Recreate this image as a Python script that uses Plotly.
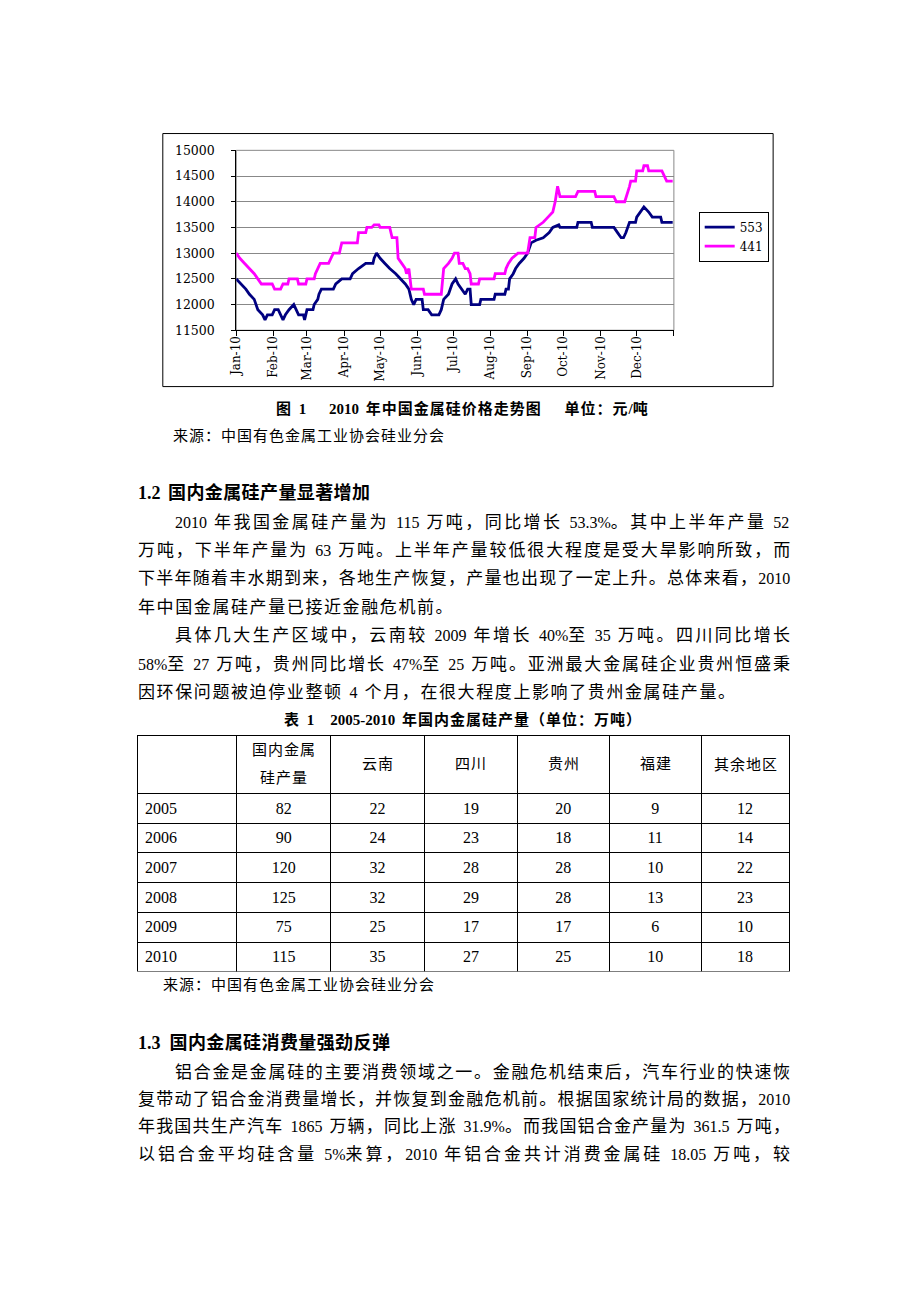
import plotly.graph_objects as go

W, H = 920, 1302

# ---------------- chart data (元/吨) ----------------
dates_553 = ["2010-01-01","2010-01-05","2010-01-09","2010-01-12","2010-01-16","2010-01-19","2010-01-23","2010-01-25",
             "2010-01-27","2010-01-31","2010-02-02","2010-02-05","2010-02-07","2010-02-09","2010-02-11","2010-02-14",
             "2010-02-18","2010-02-20","2010-02-22","2010-02-26","2010-02-27","2010-02-28","2010-03-01","2010-03-06",
             "2010-03-07","2010-03-10","2010-03-11","2010-03-13","2010-03-23","2010-03-25","2010-03-30","2010-04-06",
             "2010-04-08","2010-04-13","2010-04-19","2010-04-25","2010-04-26","2010-04-28","2010-05-01","2010-05-05",
             "2010-05-09","2010-05-14","2010-05-18","2010-05-22","2010-05-25","2010-05-27","2010-05-29","2010-05-31",
             "2010-06-05","2010-06-06","2010-06-10","2010-06-13","2010-06-19","2010-06-21","2010-06-23","2010-06-27",
             "2010-06-30","2010-07-03","2010-07-05","2010-07-08","2010-07-11","2010-07-13","2010-07-15","2010-07-16",
             "2010-07-23","2010-07-24","2010-08-04","2010-08-05","2010-08-13","2010-08-14","2010-08-16","2010-08-17",
             "2010-08-20","2010-08-22","2010-08-25","2010-08-29","2010-09-01","2010-09-04","2010-09-08","2010-09-14",
             "2010-09-19","2010-09-22","2010-09-27","2010-09-28","2010-10-12","2010-10-13","2010-10-24","2010-10-25",
             "2010-11-12","2010-11-15","2010-11-18","2010-11-20","2010-11-22","2010-11-25","2010-11-30","2010-12-01",
             "2010-12-04","2010-12-07","2010-12-11","2010-12-14","2010-12-21","2010-12-22","2010-12-31"]
price_553 = [12500,12400,12300,12200,12100,11900,11800,11700,
             11800,11800,11900,11900,11800,11700,11800,11900,
             12000,11900,11800,11800,11700,11800,11900,11900,
             12000,12100,12200,12300,12300,12400,12500,12500,
             12600,12700,12800,12800,12900,13000,12900,12800,
             12700,12600,12500,12400,12300,12100,12000,12100,
             12100,11900,11900,11800,11800,11900,12100,12200,
             12400,12500,12400,12300,12200,12300,12300,12000,
             12000,12100,12100,12200,12200,12300,12300,12500,
             12600,12700,12800,12900,13000,13200,13250,13300,
             13400,13500,13550,13500,13500,13600,13600,13500,
             13500,13400,13300,13300,13400,13600,13600,13700,
             13800,13900,13800,13700,13700,13600,13600]

dates_441 = ["2010-01-01","2010-01-04","2010-01-08","2010-01-12","2010-01-16","2010-01-19","2010-01-22","2010-01-31",
             "2010-02-02","2010-02-07","2010-02-09","2010-02-13","2010-02-14","2010-02-21","2010-02-22","2010-02-28",
             "2010-03-01","2010-03-07","2010-03-08","2010-03-10","2010-03-12","2010-03-19","2010-03-21","2010-03-23",
             "2010-03-28","2010-03-30","2010-04-12","2010-04-13","2010-04-19","2010-04-20","2010-04-24","2010-04-26",
             "2010-04-30","2010-05-01","2010-05-09","2010-05-11","2010-05-15","2010-05-16","2010-05-19","2010-05-22",
             "2010-05-23","2010-05-25","2010-05-26","2010-05-27","2010-06-06","2010-06-07","2010-06-21","2010-06-22",
             "2010-06-23","2010-06-27","2010-06-30","2010-07-02","2010-07-05","2010-07-06","2010-07-09","2010-07-11",
             "2010-07-13","2010-07-15","2010-07-16","2010-07-22","2010-07-23","2010-08-04","2010-08-05","2010-08-13",
             "2010-08-14","2010-08-16","2010-08-19","2010-08-24","2010-09-01","2010-09-03","2010-09-07","2010-09-08",
             "2010-09-14","2010-09-18","2010-09-22","2010-09-24","2010-09-26","2010-09-28","2010-10-11","2010-10-13",
             "2010-10-27","2010-10-28","2010-11-12","2010-11-14","2010-11-21","2010-11-25","2010-11-26","2010-11-30",
             "2010-12-01","2010-12-06","2010-12-07","2010-12-10","2010-12-11","2010-12-22","2010-12-24","2010-12-26",
             "2010-12-31"]
price_441 = [13000,12900,12800,12700,12600,12500,12400,12400,
             12300,12300,12400,12400,12500,12500,12400,12400,
             12500,12500,12600,12700,12800,12800,12900,13000,
             13000,13200,13200,13400,13400,13500,13500,13550,
             13550,13500,13500,13300,13300,12900,12800,12700,
             12600,12700,12500,12300,12300,12200,12200,12500,
             12700,12800,12900,13000,13000,12800,12800,12700,
             12700,12600,12400,12400,12500,12500,12600,12600,
             12700,12800,12900,13000,13000,13300,13300,13500,
             13600,13700,13800,14000,14300,14100,14100,14200,
             14200,14100,14100,14000,14000,14300,14400,14400,
             14600,14600,14700,14700,14600,14600,14500,14400,
             14400]

series_names = ["553", "441"]
month_ticks = ["2010-01-01","2010-02-01","2010-03-01","2010-04-01","2010-05-01","2010-06-01","2010-07-01",
               "2010-08-01","2010-09-01","2010-10-01","2010-11-01","2010-12-01","2011-01-01"]
month_labels = ["Jan-10","Feb-10","Mar-10","Apr-10","May-10","Jun-10","Jul-10",
                "Aug-10","Sep-10","Oct-10","Nov-10","Dec-10",""]
y_ticks = [11500, 12000, 12500, 13000, 13500, 14000, 14500, 15000]

# ---------------- table data (万吨) ----------------
table_header = ["", "国内金属<br>硅产量", "云南", "四川", "贵州", "福建", "其余地区"]
years = ["2005", "2006", "2007", "2008", "2009", "2010"]
national = [82, 90, 120, 125, 75, 115]
yunnan = [22, 24, 32, 32, 25, 35]
sichuan = [19, 23, 28, 29, 17, 27]
guizhou = [20, 18, 28, 28, 17, 25]
fujian = [9, 11, 10, 13, 6, 10]
others = [12, 14, 22, 23, 10, 18]

# ---------------- text ----------------
chart_caption = "图 1\u3000 2010 年中国金属硅价格走势图\u3000 单位：元/吨"
source_text = "来源：中国有色金属工业协会硅业分会"
heading_12 = "1.2 国内金属硅产量显著增加"
para_12a = ["2010 年我国金属硅产量为 115 万吨，同比增长 53.3%。其中上半年产量 52",
            "万吨，下半年产量为 63 万吨。上半年产量较低很大程度是受大旱影响所致，而",
            "下半年随着丰水期到来，各地生产恢复，产量也出现了一定上升。总体来看，2010",
            "年中国金属硅产量已接近金融危机前。"]
para_12b = ["具体几大生产区域中，云南较 2009 年增长 40%至 35 万吨。四川同比增长",
            "58%至 27 万吨，贵州同比增长 47%至 25 万吨。亚洲最大金属硅企业贵州恒盛秉",
            "因环保问题被迫停业整顿 4 个月，在很大程度上影响了贵州金属硅产量。"]
table_title = "表 1\u30002005-2010 年国内金属硅产量（单位：万吨）"
heading_13 = "1.3\u00a0\u00a0国内金属硅消费量强劲反弹"
para_13 = ["铝合金是金属硅的主要消费领域之一。金融危机结束后，汽车行业的快速恢",
           "复带动了铝合金消费量增长，并恢复到金融危机前。根据国家统计局的数据，2010",
           "年我国共生产汽车 1865 万辆，同比上涨 31.9%。而我国铝合金产量为 361.5 万吨，",
           "以铝合金平均硅含量 5%来算，2010 年铝合金共计消费金属硅 18.05 万吨，较"]

# ---------------- figure ----------------
TXT_FONT = "Liberation Serif, Noto Sans CJK SC"
AX_FONT = "DejaVu Serif"
DX = -7          # annotation text box offset correction
SPACE_EXTRA = 3  # extra width of a space between CJK and Latin runs


def py(y):
    return 1 - y / H


def px(x):
    return x / W


fig = go.Figure()
colors = ["#000080", "#FF00FF"]
for name, d, v, c in [(series_names[0], dates_553, price_553, colors[0]),
                      (series_names[1], dates_441, price_441, colors[1])]:
    fig.add_trace(go.Scatter(x=d, y=v, mode="lines", name=name,
                             line=dict(color=c, width=2.8), xaxis="x", yaxis="y"))

# production table (header labels drawn below so they can be vertically centred)
TBL_X0, TBL_X1, TBL_TOP, HDR_H, ROW_H = 131, 789, 736, 58, 29.7
col_w = [101, 95, 95, 94, 93, 93, 89]
fig.add_trace(go.Table(
    domain=dict(x=[px(TBL_X0), px(TBL_X1)], y=[py(TBL_TOP + HDR_H + 6 * ROW_H + 3), py(TBL_TOP)]),
    columnwidth=col_w,
    header=dict(values=[""] * len(table_header), height=HDR_H,
                line=dict(color="black", width=1), fill=dict(color="white"),
                font=dict(family=TXT_FONT, size=16, color="black")),
    cells=dict(values=[years, national, yunnan, sichuan, guizhou, fujian, others],
               height=ROW_H, align=["left"] + ["center"] * 6,
               line=dict(color="black", width=1), fill=dict(color="white"),
               font=dict(family=TXT_FONT, size=16, color="black")),
))

fig.update_layout(
    width=W, height=H, margin=dict(l=0, r=0, t=0, b=0),
    paper_bgcolor="white", plot_bgcolor="white",
    showlegend=True,
    legend=dict(x=px(697), y=py(206), xanchor="left", yanchor="top",
                bordercolor="black", borderwidth=1, bgcolor="white",
                font=dict(family=AX_FONT, size=12, color="black"),
                itemwidth=30, tracegroupgap=0),
    xaxis=dict(domain=[px(231), px(672)], type="date",
               range=["2010-01-01", "2011-01-01"],
               tickmode="array", tickvals=month_ticks, ticktext=month_labels,
               tickangle=-90, ticks="outside", ticklen=5, tickcolor="black",
               showline=True, linecolor="black", linewidth=1, showgrid=False,
               zeroline=False, tickfont=dict(family=AX_FONT, size=12, color="black"),
               ticklabelstandoff=-5, fixedrange=True),
    yaxis=dict(domain=[py(326), py(144)], range=[11500, 15000],
               tickmode="array", tickvals=y_ticks, tickformat="d",
               ticks="outside", ticklen=4, tickcolor="black",
               showline=True, linecolor="black", linewidth=1,
               showgrid=True, gridcolor="#888888", gridwidth=1, zeroline=False,
               tickfont=dict(family=AX_FONT, size=12.5, color="black"),
               ticklabelstandoff=14, fixedrange=True),
)

# plot-area frame (grey) and outer chart frame (black)
fig.add_shape(type="rect", xref="x domain", yref="y domain", x0=0, x1=1, y0=0, y1=1,
              line=dict(color="#888888", width=1), layer="below")
fig.add_shape(type="rect", xref="paper", yref="paper", x0=px(157), x1=px(772), y0=py(383), y1=py(127),
              line=dict(color="black", width=1))


def kind(ch):
    if ord(ch) >= 0x2E80:
        return "cjk"
    if ch == " ":
        return "space"
    return "latin"


def est_width(s, size, latin_size):
    w = 0.0
    for ch in s:
        k = kind(ch)
        if k == "cjk":
            w += size
        elif k == "space":
            w += 0.25 * latin_size + SPACE_EXTRA
        elif ch.isdigit():
            w += 0.5 * latin_size
        elif ch in "\u00a0.,":
            w += 0.25 * latin_size
        elif ch == "%":
            w += 0.833 * latin_size
        elif ch == "-":
            w += 0.333 * latin_size
        elif ch == "/":
            w += 0.278 * latin_size
        else:
            w += 0.5 * latin_size
    return w


def split_runs(s):
    runs = []
    for ch in s:
        k = kind(ch)
        if runs and runs[-1][0] == k:
            runs[-1][1] += ch
        else:
            runs.append([k, ch])
    return runs


def add_text(text, x, y, size, right=None, bold=False, ls=1.5, anchor="left", latin_size=None):
    latin_size = latin_size or size
    if right is not None:
        n_cjk = sum(1 for c in text if kind(c) == "cjk") - (1 if kind(text[-1]) == "cjk" else 0)
        ls = (right - x - est_width(text, size, latin_size)) / max(n_cjk, 1)
    parts = []
    for k, run in split_runs(text):
        if k == "cjk":
            parts.append(f"<span style='letter-spacing:{ls:.2f}px'>{run}</span>")
        elif k == "space":
            parts.append(f"<span style='letter-spacing:{SPACE_EXTRA}px;font-size:{latin_size}px'>{run}</span>")
        else:
            parts.append(f"<span style='letter-spacing:0px;font-size:{latin_size}px'>{run}</span>")
    t = "".join(parts)
    if bold:
        t = "<b>" + t + "</b>"
    fig.add_annotation(x=px(x + (DX if anchor == "left" else 0)), y=py(y), xref="paper", yref="paper",
                       xanchor=anchor, yanchor="middle",
                       text=t, showarrow=False, align="left", borderpad=0,
                       font=dict(family=TXT_FONT, size=size, color="black"))


# table header labels, centred in each header cell
scale = (TBL_X1 - TBL_X0) / sum(col_w)
edge = TBL_X0
for w_, lab in zip(col_w, table_header):
    cx = edge + w_ * scale / 2
    edge += w_ * scale
    lines = [l for l in lab.split("<br>") if l]
    for j, l in enumerate(lines):
        yc = TBL_TOP + HDR_H / 2 + (j - (len(lines) - 1) / 2) * 28
        add_text(l, cx, yc, 15, ls=1.0, anchor="center")

add_text(chart_caption, 459, 405, 15, bold=True, ls=1.0, anchor="center")
add_text(source_text, 173, 433, 15, ls=1.0)
add_text(heading_12, 138, 490, 18, bold=True, ls=0.4)

RIGHT = 790
ys = [520, 549, 577, 606]
for i, line in enumerate(para_12a):
    x0 = 175 if i == 0 else 138
    last = i == len(para_12a) - 1
    add_text(line, x0, ys[i], 17, right=None if last else RIGHT, ls=1.6, latin_size=16)
ys = [635, 664, 692]
for i, line in enumerate(para_12b):
    x0 = 175 if i == 0 else 138
    last = i == len(para_12b) - 1
    add_text(line, x0, ys[i], 17, right=None if last else RIGHT, ls=1.6, latin_size=16)

add_text(table_title, 459, 720, 15, bold=True, ls=1.0, anchor="center")
add_text(source_text, 163, 988, 15, ls=1.0)
add_text(heading_13, 138, 1047, 18, bold=True, ls=0.4)
ys = [1077, 1104, 1132, 1160]
for i, line in enumerate(para_13):
    x0 = 175 if i == 0 else 138
    add_text(line, x0, ys[i], 17, right=RIGHT, latin_size=16)

fig.write_html("out.html", config={"displayModeBar": False},
               post_script="document.body.style.margin='0';document.body.style.overflow='hidden';")
